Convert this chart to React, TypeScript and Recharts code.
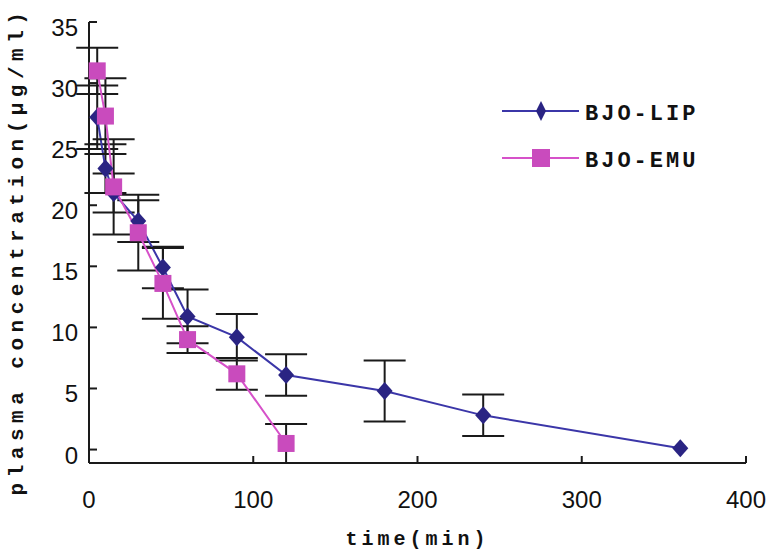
import React from 'react';
import { LineChart, Line, XAxis, YAxis, ErrorBar, Legend, Label } from 'recharts';

// BJO-LIP
const lipTimes = [5, 10, 15, 30, 45, 60, 90, 120, 180, 240, 360];
const lipMeans = [27.2, 23.0, 21.0, 18.7, 14.9, 10.9, 9.2, 6.1, 4.8, 2.8, 0.1];
const lipSd = [2.6, 2.0, 1.6, 1.7, 1.7, 2.2, 1.9, 1.7, 2.5, 1.7, 0];

// BJO-EMU
const emuTimes = [5, 10, 15, 30, 45, 60, 90, 120];
const emuMeans = [31.0, 27.3, 21.5, 17.75, 13.6, 9.0, 6.2, 0.5];
const emuSd = [1.9, 3.1, 3.9, 3.1, 2.9, 1.1, 1.3, 1.6];

const xTicks = [0, 100, 200, 300, 400];
const yTicks = [0, 5, 10, 15, 20, 25, 30, 35];

const LIP_LINE = '#3b36a8';
const LIP_DOT = '#2a2483';
const EMU_LINE = '#d651c9';
const EMU_DOT = '#c94bbd';
const AXIS = '#1a1a1a';

const lipData = lipTimes.map((t, i) => ({ t, v: lipMeans[i], err: lipSd[i] }));
const emuData = emuTimes.map((t, i) => ({ t, v: emuMeans[i], err: emuSd[i] }));

const tickFont = '"Liberation Sans", Arial, sans-serif';
const monoFont = '"Liberation Mono", "DejaVu Sans Mono", monospace';

const XTick = ({ x, y, payload }: any) => (
  <g>
    <line x1={x} x2={x} y1={y} y2={y - 7} stroke={AXIS} strokeWidth={2} />
    <text x={x} y={y + 45} textAnchor="middle" fontFamily={tickFont} fontSize={24} fill="#111">
      {payload.value}
    </text>
  </g>
);

const YTick = ({ x, y, payload }: any) => (
  <g>
    <line x1={x} x2={x + 8} y1={y} y2={y} stroke={AXIS} strokeWidth={2} />
    <text x={x - 11} y={y + 14} textAnchor="end" fontFamily={tickFont} fontSize={24} fill="#111">
      {payload.value}
    </text>
  </g>
);

const Diamond = ({ cx, cy }: any) => {
  if (cx == null || cy == null) return null;
  return <path d={`M${cx},${cy - 9} L${cx + 8},${cy} L${cx},${cy + 9} L${cx - 8},${cy} Z`} fill={LIP_DOT} />;
};

const Square = ({ cx, cy }: any) => {
  if (cx == null || cy == null) return null;
  return <rect x={cx - 8.5} y={cy - 8.5} width={17} height={17} fill={EMU_DOT} />;
};

const renderLegend = () => (
  <svg width={240} height={90}>
    <line x1={7} x2={84} y1={21} y2={21} stroke={LIP_LINE} strokeWidth={2} />
    <path d="M46,11 L51,21 L46,31 L41,21 Z" fill={LIP_DOT} />
    <text x={90} y={30} fontFamily={monoFont} fontWeight="bold" fontSize={22} letterSpacing={3} fill="#111">
      BJO-LIP
    </text>
    <line x1={7} x2={84} y1={68} y2={68} stroke={EMU_LINE} strokeWidth={2} />
    <rect x={37} y={59} width={18} height={18} fill={EMU_DOT} />
    <text x={90} y={77} fontFamily={monoFont} fontWeight="bold" fontSize={22} letterSpacing={3} fill="#111">
      BJO-EMU
    </text>
  </svg>
);

const XTitle = ({ viewBox }: any) => (
  <text
    x={viewBox.x + viewBox.width / 2}
    y={545}
    textAnchor="middle"
    fontFamily={monoFont}
    fontWeight="bold"
    fontSize={20}
    letterSpacing={4}
    fill="#111"
  >
    time(min)
  </text>
);

const YTitle = () => (
  <text
    transform="translate(23,251) rotate(-90)"
    textAnchor="middle"
    fontFamily={monoFont}
    fontWeight="bold"
    fontSize={21}
    letterSpacing={5.5}
    fill="#111"
  >
    plasma concentration(μg/ml)
  </text>
);

export default function App() {
  return (
    <div style={{ width: 767, height: 554, background: '#fff', position: 'relative' }}>
      <style>{'body{margin:0;background:#fff}'}</style>
      <LineChart width={767} height={554} margin={{ top: 22, right: 21, bottom: 31, left: 29 }}>
        <XAxis
          dataKey="t"
          type="number"
          domain={[0, 400]}
          ticks={xTicks}
          tickLine={false}
          tickSize={0}
          tickMargin={0}
          tick={<XTick />}
          height={60}
          axisLine={{ stroke: AXIS, strokeWidth: 2 }}
          allowDuplicatedCategory={false}
        >
          <Label content={<XTitle />} />
        </XAxis>
        <YAxis
          type="number"
          domain={[0, 35]}
          ticks={yTicks}
          tickLine={false}
          tickSize={0}
          tickMargin={0}
          tick={<YTick />}
          width={60}
          axisLine={{ stroke: AXIS, strokeWidth: 2 }}
        >
          <Label content={<YTitle />} />
        </YAxis>
        <Legend
          layout="horizontal"
          verticalAlign="middle"
          align="center"
          content={renderLegend}
          wrapperStyle={{ position: 'absolute', left: 495, top: 90, width: 240 }}
        />
        <Line
          data={lipData}
          dataKey="v"
          name="BJO-LIP"
          type="linear"
          stroke={LIP_LINE}
          strokeWidth={2}
          dot={<Diamond />}
          activeDot={false}
          isAnimationActive={false}
        >
          <ErrorBar dataKey="err" direction="y" width={21} stroke={AXIS} strokeWidth={2} />
        </Line>
        <Line
          data={emuData}
          dataKey="v"
          name="BJO-EMU"
          type="linear"
          stroke={EMU_LINE}
          strokeWidth={2}
          dot={<Square />}
          activeDot={false}
          isAnimationActive={false}
        >
          <ErrorBar dataKey="err" direction="y" width={21} stroke={AXIS} strokeWidth={2} />
        </Line>
      </LineChart>
    </div>
  );
}
